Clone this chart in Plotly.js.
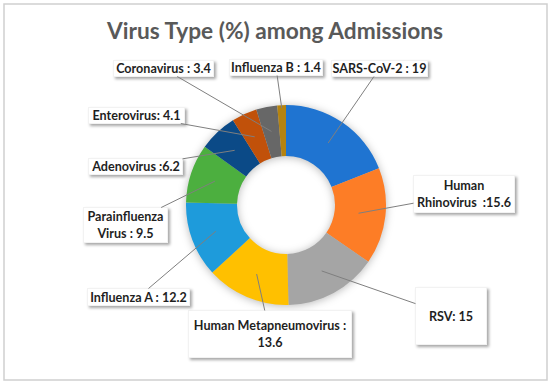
<!DOCTYPE html>
<html>
<head>
<meta charset="utf-8">
<script src="https://cdn.plot.ly/plotly-3.0.1.min.js"></script>
<style>
  html, body { margin: 0; padding: 0; background: #fff; }
  #chart { width: 550px; height: 385px; }
  .annotation rect.bg { filter: drop-shadow(2px 2px 1.5px rgba(0,0,0,0.35)); }
  .pielayer .trace { filter: drop-shadow(0px 1px 4px rgba(0,0,0,0.28)); }
</style>
</head>
<body>
<div id="chart"></div>
<script>
// ---- data ----
var categories = ["SARS-CoV-2", "Human Rhinovirus", "RSV", "Human Metapneumovirus",
  "Influenza A", "Parainfluenza Virus", "Adenovirus", "Enterovirus", "Coronavirus", "Influenza B"];
var values = [19, 15.6, 15, 13.6, 12.2, 9.5, 6.2, 4.1, 3.4, 1.4];
var labelPrefix = ["SARS-CoV-2 : ", "Human<br>Rhinovirus  :", "RSV: ", "Human Metapneumovirus :<br>",
  "Influenza A : ", "Parainfluenza<br>Virus : ", "Adenovirus :", "Enterovirus: ", "Coronavirus : ", "Influenza B : "];
var colors = ["#1F74D1", "#FD7D26", "#A5A5A5", "#FFC000", "#1E9BDB",
  "#4CAF3F", "#0B4A87", "#C1510A", "#676767", "#B58310"];

// ---- layout constants (pixels) ----
var W = 550, H = 385;
var CX = 286, CY = 205, R = 100;
// label boxes: [left, top, right, bottom]
var boxes = [
  [331, 60, 428, 77],
  [413, 175, 515, 213],
  [415, 287, 487, 345],
  [188, 310, 352, 358],
  [87, 288, 190, 306],
  [83, 207, 168, 243],
  [88, 158, 183, 175],
  [88, 107, 185, 124],
  [113, 60, 214, 77],
  [229, 59, 323, 76]
];
var pointRadius = [0.75, 0.73, 0.75, 0.75, 0.75, 0.75, 0.75, 0.75, 0.75, 0.97];

var total = values.reduce(function (a, b) { return a + b; }, 0);
var annotations = [];
var cum = 0;
for (var i = 0; i < values.length; i++) {
  var mid = (cum + values[i] / 2) / total * 2 * Math.PI;
  cum += values[i];
  var px = CX + pointRadius[i] * R * Math.sin(mid);
  var py = CY - pointRadius[i] * R * Math.cos(mid);
  var b = boxes[i];
  var bx = (b[0] + b[2]) / 2, by = (b[1] + b[3]) / 2;
  annotations.push({
    text: labelPrefix[i] + values[i],
    xref: "paper", yref: "paper",
    x: px / W, y: 1 - py / H,
    ax: bx - px, ay: by - py,
    axref: "pixel", ayref: "pixel",
    showarrow: true, arrowhead: 0, arrowwidth: 1, arrowcolor: "#7f7f7f",
    standoff: 0, startstandoff: 0,
    width: b[2] - b[0] - 2, height: b[3] - b[1] - 2,
    borderpad: 0, borderwidth: 1, bordercolor: "#f2f2f2", bgcolor: "#ffffff",
    align: "center", valign: "middle",
    font: { family: "Lato, 'Open Sans', sans-serif", size: 12.6, color: "#1f1f1f", weight: "bold" }
  });
}

var trace = {
  type: "pie",
  labels: categories,
  values: values,
  sort: false,
  direction: "clockwise",
  rotation: 0,
  hole: 0.49,
  textinfo: "none",
  hoverinfo: "label+value",
  marker: { colors: colors, line: { width: 0 } },
  showlegend: false,
  domain: { x: [(CX - R) / W, (CX + R) / W], y: [1 - (CY + R) / H, 1 - (CY - R) / H] }
};

var layout = {
  width: W, height: H,
  margin: { l: 0, r: 0, t: 0, b: 0 },
  paper_bgcolor: "#ffffff",
  title: {
    text: "<b>Virus Type (%) among Admissions</b>",
    x: 0.5, xanchor: "center", xref: "paper",
    y: 1 - 31 / H, yref: "container", yanchor: "middle",
    font: { family: "Lato, 'Open Sans', sans-serif", size: 22.7, color: "#595959" }
  },
  annotations: annotations,
  shapes: [{
    type: "rect", xref: "paper", yref: "paper",
    x0: 4 / W, x1: 547 / W, y0: 1 - 380 / H, y1: 1 - 4 / H,
    line: { color: "#d0d0d0", width: 1.5 }, fillcolor: "rgba(0,0,0,0)"
  }]
};

Plotly.newPlot("chart", [trace], layout, { displayModeBar: false, staticPlot: true });
</script>
</body>
</html>
